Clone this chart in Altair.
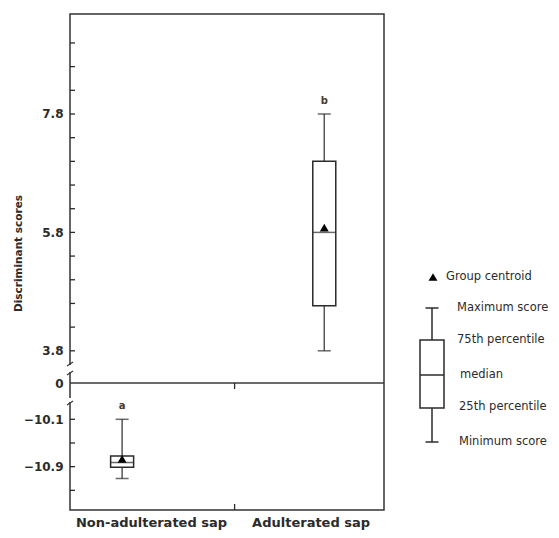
import altair as alt
import pandas as pd

# ---------------- data ----------------
groups = ["Non-adulterated sap", "Adulterated sap"]
group_x = [0.31, 1.64]            # horizontal position of each box on a 0-2 axis
v_min = [-11.10, 3.80]
v_q1 = [-10.91, 4.56]
v_median = [-10.83, 5.80]
v_q3 = [-10.72, 7.00]
v_max = [-10.10, 7.80]
centroid = [-10.77, 5.88]
letters = ["a", "b"]

y_tick_labels = [7.8, 5.8, 3.8, 0, -10.1, -10.9]
upper_minor = [3.8, 4.2, 4.6, 5.0, 5.4, 5.8, 6.2, 6.6, 7.0, 7.4, 7.8, 8.2, 8.6, 9.0]
lower_minor = [-10.1, -10.5, -10.9, -11.3]
x_label_pos = [0.5, 1.55]
divider_x = 1.05

legend_labels = ["Maximum score", "75th percentile", "median", "25th percentile", "Minimum score"]

# ---------------- broken axis mapping ----------------
LOWER_SHIFT = 12.743   # lower (negative) segment is shifted up by this amount
BREAK = 3.256          # axis coordinate of the "0" break line
Y_DOMAIN = [1.111, 9.489]


def to_axis(v):
    if v == 0:
        return BREAK
    return v if v > 0 else v + LOWER_SHIFT


df = pd.DataFrame({
    "group": groups,
    "gx": group_x,
    "ymin": [to_axis(v) for v in v_min],
    "q1": [to_axis(v) for v in v_q1],
    "med": [to_axis(v) for v in v_median],
    "q3": [to_axis(v) for v in v_q3],
    "ymax": [to_axis(v) for v in v_max],
    "cen": [to_axis(v) for v in centroid],
    "letter": letters,
})

ticks_df = pd.DataFrame({"t": [to_axis(v) for v in upper_minor + lower_minor]})
zero_df = pd.DataFrame({"z": [BREAK]})
div_df = pd.DataFrame({"dx": [divider_x]})

W, H = 314, 496
INK = "#2b2b2b"
FONT = "DejaVu Sans"

label_expr_y = (
    f"datum.value > 3.5 ? format(datum.value, '.1f') : "
    f"(datum.value > 3 ? '0' : format(datum.value - {LOWER_SHIFT}, '.1f'))"
)
yaxis = alt.Axis(
    values=[to_axis(v) for v in y_tick_labels],
    labelExpr=label_expr_y,
    ticks=False, tickSize=0, domain=False, grid=False,
    labelFont=FONT, labelFontSize=12, labelFontWeight="bold", labelColor=INK,
    labelPadding=7,
    titleFont=FONT, titleFontSize=10.5, titleFontWeight="bold", titleColor=INK,
    titleAngle=270, titleX=-52, titleY=239, titleAlign="center", titleBaseline="middle",
)
label_expr_x = f"datum.value < {divider_x} ? '{groups[0]}' : '{groups[1]}'"
xaxis = alt.Axis(
    values=x_label_pos, labelExpr=label_expr_x,
    ticks=False, tickSize=0, domain=False, grid=False,
    labelFont=FONT, labelFontSize=13, labelFontWeight="bold", labelColor=INK,
    labelPadding=6, labelFlush=False,
)
xs = alt.Scale(domain=[0, 2], nice=False, zero=False)
ys = alt.Scale(domain=Y_DOMAIN, nice=False, zero=False)
YT = "Discriminant scores"


def X(field):
    return alt.X(field, type="quantitative", scale=xs, axis=xaxis, title=None)


def Y(field):
    return alt.Y(field, type="quantitative", scale=ys, axis=yaxis, title=YT)


base = alt.Chart(df)

whisker = base.mark_rule(color="#555", strokeWidth=1.5).encode(
    x=X("gx"), y=Y("ymin"), y2="ymax")
caps_top = base.mark_tick(orient="horizontal", size=13, thickness=1.5, color=INK).encode(
    x=X("gx"), y=Y("ymax"))
caps_bot = base.mark_tick(orient="horizontal", size=13, thickness=1.5, color=INK).encode(
    x=X("gx"), y=Y("ymin"))
box = base.mark_bar(size=23, fill="white", stroke=INK, strokeWidth=1.5).encode(
    x=X("gx"), y=Y("q1"), y2="q3")
median = base.mark_tick(orient="horizontal", size=23, thickness=1.5, color=INK).encode(
    x=X("gx"), y=Y("med"))
cent = base.mark_point(shape="triangle-up", filled=True, size=80, color="black", opacity=1).encode(
    x=X("gx"), y=Y("cen"))
letter = base.mark_text(font=FONT, fontSize=10, fontWeight="bold", color="#4a3a2a",
                        dy=-13, baseline="middle").encode(
    x=X("gx"), y=Y("ymax"), text="letter")

ytick = alt.Chart(ticks_df).mark_rule(color=INK, strokeWidth=1.3).encode(
    y=Y("t"), x=alt.value(0), x2=alt.value(5))
zero_line = alt.Chart(zero_df).mark_rule(color="#3a3a3a", strokeWidth=1.5).encode(
    y=Y("z"), x=alt.value(0), x2=alt.value(W))
div_top = alt.Chart(div_df).mark_rule(color=INK, strokeWidth=1.3).encode(
    x=X("dx"), y=alt.value(369), y2=alt.value(375))
div_bot = alt.Chart(div_df).mark_rule(color=INK, strokeWidth=1.3).encode(
    x=X("dx"), y=alt.value(H - 6), y2=alt.value(H))

one = pd.DataFrame({"k": [0]})
# axis break marks on the left frame: white gaps and short slanted strokes
gap1 = alt.Chart(one).mark_rect(color="white").encode(
    x=alt.value(-2), x2=alt.value(2), y=alt.value(351), y2=alt.value(358))
gap2 = alt.Chart(one).mark_rect(color="white").encode(
    x=alt.value(-2), x2=alt.value(2), y=alt.value(384), y2=alt.value(388))
brk = [
    alt.Chart(one).mark_rule(color="#333", strokeWidth=1.2).encode(
        x=alt.value(-3), x2=alt.value(3), y=alt.value(yy + 2), y2=alt.value(yy - 2))
    for yy in (350, 359, 389)
]

# ---------------- legend (decorative key) ----------------
LEG_TXT = dict(font=FONT, fontSize=11.5, color=INK, align="left", baseline="middle")
leg_tri = alt.Chart(one).mark_point(shape="triangle-up", filled=True, size=80,
                                    color="black", opacity=1).encode(
    x=alt.value(363), y=alt.value(263))
leg_tri_t = alt.Chart(one).mark_text(text="Group centroid", **LEG_TXT).encode(
    x=alt.value(376), y=alt.value(263))
leg_wh = alt.Chart(one).mark_rule(color=INK, strokeWidth=1.5).encode(
    x=alt.value(362), y=alt.value(294), y2=alt.value(428))
leg_cap1 = alt.Chart(one).mark_rule(color=INK, strokeWidth=1.5).encode(
    x=alt.value(355.5), x2=alt.value(368.5), y=alt.value(294))
leg_cap2 = alt.Chart(one).mark_rule(color=INK, strokeWidth=1.5).encode(
    x=alt.value(355.5), x2=alt.value(368.5), y=alt.value(428))
leg_box = alt.Chart(one).mark_rect(fill="white", stroke=INK, strokeWidth=1.5).encode(
    x=alt.value(350), x2=alt.value(374), y=alt.value(326), y2=alt.value(394))
leg_med = alt.Chart(one).mark_rule(color=INK, strokeWidth=1.5).encode(
    x=alt.value(350), x2=alt.value(374), y=alt.value(361))
leg_texts = [
    alt.Chart(one).mark_text(text=t, **LEG_TXT).encode(x=alt.value(px), y=alt.value(py))
    for t, px, py in zip(legend_labels, [387, 387, 390, 389, 389], [294, 326, 361, 393, 428])
]

chart = alt.layer(
    whisker, box, median, caps_top, caps_bot, cent, letter,
    ytick, zero_line, div_top, div_bot, gap1, gap2, *brk,
    leg_tri, leg_tri_t, leg_wh, leg_box, leg_med, leg_cap1, leg_cap2, *leg_texts,
).properties(
    width=W, height=H,
    autosize=alt.AutoSizeParams(type="none"),
    padding={"left": 62, "top": 6, "right": 165, "bottom": 20},
).configure_view(
    stroke="#333", strokeWidth=1.5
).configure_axis(grid=False)

chart.save("out.html", embed_options={"renderer": "svg", "actions": False})
